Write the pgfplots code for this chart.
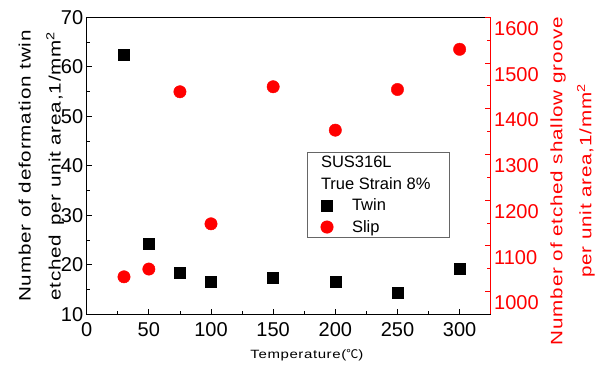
\documentclass[border=0pt]{standalone}
\usepackage{fontspec}
\setmainfont{Liberation Sans}
\newfontfamily\labfont[FakeStretch=1.25,LetterSpace=5]{Liberation Sans}
\newfontfamily\cjk{Noto Sans CJK JP}
\usepackage{pgfplots}
\pgfplotsset{compat=1.18}
\definecolor{myred}{RGB}{255,0,0}
\pgfplotsset{mylegimg/.style={legend image code/.code={\path[draw=none,fill=none] (0pt,-10.7pt) rectangle (45pt,10.7pt); \draw[##1] plot coordinates {(20pt,0pt)};}}}
\begin{document}
\begin{tikzpicture}
\useasboundingbox (0,0) rectangle (597pt,369pt);
\begin{axis}[
  at={(86.7pt,54.7pt)}, anchor=south west,
  width=404pt, height=297pt, scale only axis,
  xmin=0, xmax=325, ymin=10, ymax=70,
  xtick={0,50,...,300}, minor xtick={25,75,...,275},
  ytick={10,20,...,70}, minor ytick={15,25,...,65},
  tick align=inside, xtick pos=bottom, ytick pos=left,
  major tick length=5pt, minor tick length=3pt,
  tick style={black, line width=0.8pt},
  axis line style={line width=0.8pt},
  ticklabel style={font=\fontsize{20}{20}\selectfont},
  xticklabel style={yshift=-5pt},
  /pgf/number format/assume math mode=true,
  xlabel={Temperature({\cjk ℃})},
  xlabel style={at={(axis description cs:0.545,-0.137)}, anchor=center, font=\labfont\fontsize{12}{12}\selectfont},
  ylabel={Number of deformation twin\\etched\hspace{9pt}per unit area,1/mm\textsuperscript{2}},
  ylabel style={at={(axis description cs:-0.112,0.499)}, anchor=center, align=center, font=\labfont\fontsize{16.5}{30}\selectfont},
]
\addplot[only marks, mark=square*, mark size=5.5pt, black] coordinates {
(30,62.4) (50,24.2) (75,18.4) (100,16.6) (150,17.4) (200,16.6) (250,14.4) (300,19.2)
};
\end{axis}
\begin{axis}[
  at={(86.7pt,54.7pt)}, anchor=south west,
  width=404pt, height=297pt, scale only axis,
  xmin=0, xmax=325, ymin=975, ymax=1625,
  axis y line*=right, axis x line=none,
  ytick={1000,1100,...,1600},
  extra y ticks={1025,1125,...,1625}, extra y tick labels={},
  extra y tick style={major tick length=5.7pt},
  minor ytick={1075,1175,...,1575},
  major tick length=0pt, minor tick length=4pt,
  tick align=inside,
  tick style={myred, line width=0.8pt},
  y axis line style={myred, line width=0.8pt},
  yticklabel style={text=myred, font=\fontsize{20}{20}\selectfont},
  /pgf/number format/assume math mode=true,
  /pgf/number format/1000 sep={},
  ylabel={Number of etched shallow groove\\per unit area,1/mm\textsuperscript{2}},
  ylabel style={at={(axis description cs:1.2025,0.449)}, anchor=center, align=center, text=myred, font=\labfont\fontsize{16.5}{29}\selectfont},
  legend style={at={(axis description cs:0.5446,0.547)}, anchor=north west, draw=black!60, line width=0.6pt, font=\fontsize{16.5}{16.5}\selectfont, text=black, row sep=0pt, column sep=0pt, inner sep=0pt, nodes={inner sep=0pt, minimum height=21.4pt}},
  legend cell align=left,
]
\addlegendimage{empty legend}\addlegendentry{\hspace{-31pt}SUS316L}
\addlegendimage{empty legend}\addlegendentry{\hspace{-31pt}True Strain 8\%\rule{19pt}{0pt}}
\addlegendimage{only marks, mark=square*, mark size=5.5pt, black, mylegimg}\addlegendentry{Twin}
\addplot[only marks, mark=*, mark size=6.2pt, myred, mylegimg] coordinates {
(30,1057) (50,1074) (75,1462) (100,1173) (150,1473) (200,1378) (250,1467) (300,1555)
};
\addlegendentry{Slip}
\end{axis}
\end{tikzpicture}
\end{document}
